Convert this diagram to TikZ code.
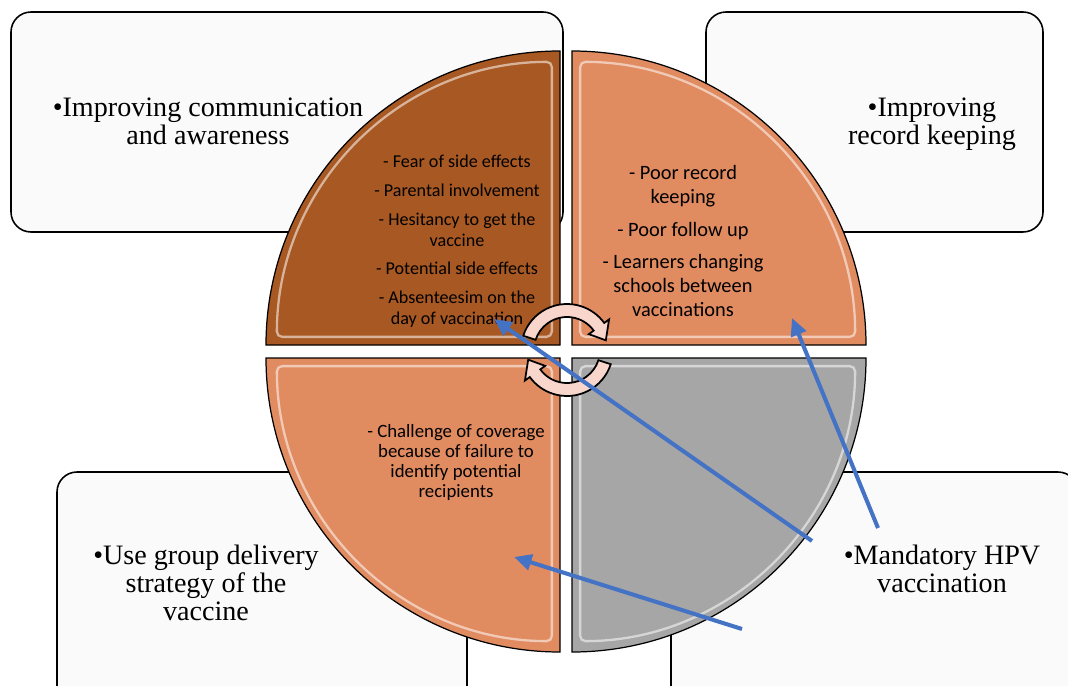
\documentclass[tikz,border=0pt]{standalone}
\usepackage{fontspec}
\setmainfont{Liberation Serif}
\newfontfamily\piefont{Carlito}
\usetikzlibrary{arrows.meta}

\definecolor{rust}{RGB}{168,88,34}
\definecolor{salmon}{RGB}{225,139,97}
\definecolor{ash}{RGB}{166,166,166}
\definecolor{blush}{RGB}{248,214,204}
\definecolor{arrowblue}{RGB}{68,114,196}
\definecolor{paper}{RGB}{250,250,250}

\tikzset{
  idea/.style={draw=black, line width=0.9pt, fill=paper, rounded corners=0.4cm},
  ideatext/.style={align=center, font=\fontsize{16}{16}\selectfont},
  sector/.style={draw=black, line width=0.7pt},
  shine/.style={draw=white, line width=1.3pt, opacity=0.55, rounded corners=3pt},
  cause/.style={align=center, font=\piefont\fontsize{10.3}{12}\selectfont},
  turn/.style={draw=black, line width=1pt, fill=blush},
  link/.style={draw=arrowblue, line width=2.3pt, -{Triangle[length=10pt,width=9pt]}}
}

\begin{document}
\begin{tikzpicture}
	\useasboundingbox (0,0) rectangle (21.36,13.70);
	\clip (0,0) rectangle (21.36,13.70);
	% boxes with the answers, behind the pie
	\draw[idea] (0.22,9.06) rectangle (11.26,13.46);
	\draw[idea] (14.12,9.06) rectangle (20.86,13.46);
	\draw[idea] (1.14,-0.50) rectangle (9.34,4.26);
	\draw[idea] (13.42,-0.50) rectangle (21.56,4.26);
	\node[ideatext] (comm) at (4.16,11.28) {•Improving communication\\and awareness};
	\node[ideatext] (record) at (18.64,11.22) {•Improving\\record keeping};
	\node[ideatext] (group) at (4.12,2.04) {•Use group delivery\\strategy of the\\vaccine};
	\node[ideatext] (mandatory) at (18.84,2.32) {•Mandatory HPV\\vaccination};
	% the four quarters
	\foreach \cx/\cy/\a/\col in {11.20/6.80/90/rust, 11.44/6.80/0/salmon, 11.20/6.54/180/salmon, 11.44/6.54/270/ash}{
		\draw[sector, fill=\col] (\cx,\cy) -- ++(\a:5.88) arc[start angle=\a, end angle=\a+90, radius=5.88] -- cycle;
		\draw[shine, shift={(\a+45:0.23)}] (\cx,\cy) -- ++(\a:5.50) arc[start angle=\a, end angle=\a+90, radius=5.50] -- cycle;
	}
	\node[cause] (fears) at (9.14,8.87) {- Fear of side effects\\[4.3pt]
		- Parental involvement\\[4.3pt]
		- Hesitancy to get the\\vaccine\\[4.3pt]
		- Potential side effects\\[4.3pt]
		- Absenteesim on the\\day of vaccination};
	\node[cause, font=\piefont\fontsize{11.6}{13.5}\selectfont] (records) at (13.66,8.88) {- Poor record\\keeping\\[5pt]
		- Poor follow up\\[5pt]
		- Learners changing\\schools between\\vaccinations};
	\node[cause, font=\piefont\fontsize{10.7}{11.5}\selectfont] (coverage) at (9.12,4.45) {- Challenge of coverage\\because of failure to\\identify potential\\recipients};
	% turning arrows in the middle
	\foreach \r in {0,180}
		\filldraw[turn, shift={(11.34,6.70)}, rotate=\r] (162:0.92) arc[start angle=162, end angle=36, radius=0.92] -- (36:1.04) -- (14:0.80) -- (36:0.54) -- (36:0.66) arc[start angle=36, end angle=162, radius=0.66] -- cycle;
	% blue pointers
	\coordinate (tipA) at (9.88,7.32);
	\coordinate (tailA) at (16.24,2.88);
	\coordinate (tipB) at (15.84,7.34);
	\coordinate (tailB) at (17.56,3.14);
	\coordinate (tipC) at (10.28,2.56);
	\coordinate (tailC) at (14.84,1.12);
	\draw[link] (tailA) -- (tipA);
	\draw[link] (tailB) -- (tipB);
	\draw[link] (tailC) -- (tipC);
\end{tikzpicture}
\end{document}
